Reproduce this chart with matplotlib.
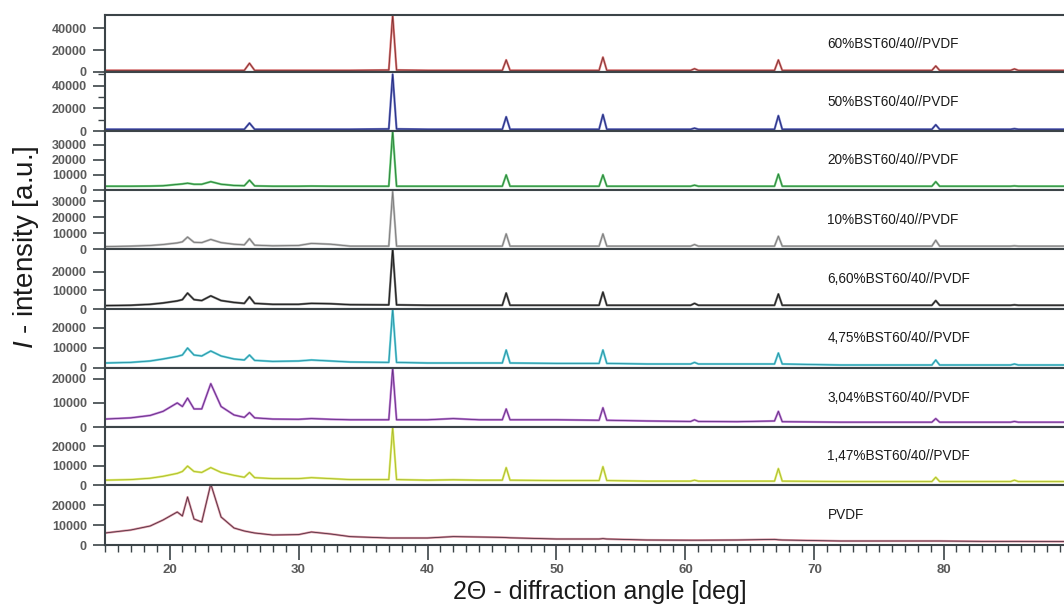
import matplotlib
matplotlib.use("Agg")
import matplotlib.pyplot as plt
from matplotlib.ticker import MultipleLocator


OUTPUT_PLOT = "out.png"

plt.rcParams["font.family"] = ["Liberation Sans", "DejaVu Sans"]
plt.rcParams["mathtext.fontset"] = "custom"
plt.rcParams["mathtext.it"] = "Liberation Sans:italic"
plt.rcParams["mathtext.rm"] = "Liberation Sans"

angles = [15, 17, 18.5, 19.5, 20.6, 21.0, 21.4, 21.9, 22.5, 23.2,
          24.0, 25.0, 25.8, 26.2, 26.6, 28, 30, 31, 32.5, 34,
          37.0, 37.3, 37.6, 40, 42, 44, 45.8, 46.1, 46.4, 50,
          53.3, 53.6, 53.9, 57, 60.4, 60.7, 61.0, 64, 66.9, 67.2,
          67.5, 72, 79.1, 79.4, 79.7, 83, 85.2, 85.5, 85.8, 90]

labels = ["60%BST60/40//PVDF", "50%BST60/40//PVDF", "20%BST60/40//PVDF",
          "10%BST60/40//PVDF", "6,60%BST60/40//PVDF", "4,75%BST60/40//PVDF",
          "3,04%BST60/40//PVDF", "1,47%BST60/40//PVDF", "PVDF"]

bst60 = [1500, 1500, 1500, 1500, 1500, 1500, 1500, 1500, 1500, 1500,
         1500, 1500, 1500, 8000, 1500, 1500, 1500, 1500, 1500, 1500,
         1800, 52000, 1800, 1500, 1500, 1500, 1500, 11000, 1500, 1500,
         1500, 13500, 1500, 1500, 1500, 3000, 1500, 1500, 1500, 11000,
         1500, 1500, 1500, 5500, 1500, 1500, 1500, 2800, 1500, 1500]

bst50 = [1500, 1500, 1500, 1500, 1500, 1500, 1500, 1500, 1500, 1500,
         1500, 1500, 1500, 7000, 1500, 1500, 1500, 1500, 1500, 1500,
         1800, 50000, 1800, 1500, 1500, 1500, 1500, 12500, 1500, 1500,
         1500, 14500, 1500, 1500, 1500, 2500, 1500, 1500, 1500, 13500,
         1500, 1500, 1500, 5500, 1500, 1500, 1500, 2000, 1500, 1500]

bst20 = [2500, 2500, 2600, 2800, 3700, 4000, 4500, 3800, 3800, 5500,
         3800, 3000, 2800, 6500, 2700, 2500, 2500, 2600, 2500, 2500,
         2500, 39000, 2500, 2500, 2500, 2500, 2500, 10000, 2500, 2500,
         2500, 10000, 2500, 2500, 2500, 3200, 2500, 2500, 2500, 10500,
         2500, 2500, 2500, 5500, 2500, 2500, 2500, 2700, 2500, 2500]

bst10 = [1500, 1800, 2200, 2800, 3800, 4500, 7500, 4200, 4000, 6000,
         4000, 3000, 2600, 6500, 2400, 2000, 2200, 3500, 3000, 1800,
         1800, 36000, 1800, 1800, 1800, 1800, 1800, 9500, 1800, 1800,
         1800, 9500, 1800, 1800, 1800, 2800, 1800, 1800, 1800, 8000,
         1800, 1800, 1800, 5500, 1800, 1800, 1800, 2000, 1800, 1800]

bst6_60 = [1800, 2000, 2500, 3200, 4300, 5000, 8500, 5000, 4500, 7000,
           4500, 3500, 3000, 6500, 3000, 2500, 2500, 3000, 2800, 2300,
           2200, 32000, 2200, 2000, 2000, 2000, 2000, 8500, 2000, 2000,
           2000, 9000, 2000, 2000, 2000, 3000, 2000, 2000, 2000, 8000,
           2000, 2000, 2000, 4500, 2000, 2000, 2000, 2200, 2000, 2000]

bst4_75 = [2500, 2800, 3500, 4500, 5800, 6500, 10000, 6500, 6000, 8500,
           6000, 4500, 4000, 6500, 3800, 3300, 3500, 4000, 3500, 3000,
           2800, 29500, 2800, 2500, 2500, 2500, 2500, 9000, 2500, 2300,
           2300, 9000, 2300, 2000, 2000, 2800, 2000, 2000, 2000, 7500,
           2000, 1500, 1500, 4000, 1500, 1500, 1500, 2000, 1500, 1500]

bst3_04 = [3300, 3800, 4800, 6500, 10000, 8500, 12000, 7500, 7500, 18000,
           8500, 5000, 4000, 6000, 3800, 3300, 3200, 3500, 3200, 3000,
           3000, 24500, 3000, 3000, 3500, 3000, 3000, 7500, 3000, 3000,
           2800, 8000, 2800, 2500, 2300, 3000, 2300, 2200, 2500, 6500,
           2200, 2000, 2000, 3500, 2000, 2000, 2000, 2300, 2000, 2000]

bst1_47 = [2500, 2800, 3500, 4500, 6000, 7000, 9800, 7000, 6500, 9000,
           6500, 5000, 4000, 6500, 3800, 3300, 3300, 3800, 3300, 2800,
           2800, 30000, 2800, 2500, 2700, 2500, 2500, 9000, 2500, 2300,
           2300, 9500, 2300, 2000, 2000, 2500, 2000, 2000, 2000, 8500,
           2000, 1800, 1800, 4000, 1800, 1800, 1800, 2500, 1800, 1800]

pvdf = [6000, 7500, 9500, 12500, 16500, 14500, 24000, 13000, 11500, 30500,
        14000, 8500, 7000, 6500, 6000, 5000, 5200, 6500, 5500, 4200,
        3500, 3500, 3500, 3500, 4200, 4000, 3800, 3700, 3600, 3000,
        3000, 3200, 3000, 2500, 2400, 2400, 2400, 2500, 2800, 2600,
        2500, 2000, 2000, 2000, 2000, 1800, 1800, 1800, 1800, 1700]

series = [bst60, bst50, bst20, bst10, bst6_60, bst4_75, bst3_04, bst1_47, pvdf]

line_colors = ["#de7a7a", "#6a72c0", "#6ccc7a", "#b8b8b8", "#6a6a6a",
               "#68d0dc", "#c07ad6", "#e0ec6a", "#dc94a2"]
dark_colors = ["#7a3030", "#20287a", "#287a38", "#787878", "#151515",
               "#2890a0", "#603080", "#a8b830", "#503040"]

y_tops = [52000, 52000, 39000, 37000, 32000, 29500, 24500, 30000, 30000]
y_ticks = [[0, 20000, 40000], [0, 20000, 40000],
           [0, 10000, 20000, 30000], [0, 10000, 20000, 30000],
           [0, 10000, 20000], [0, 10000, 20000], [0, 10000, 20000],
           [0, 10000, 20000], [0, 10000, 20000]]

# pixel rows of each panel's zero line in a 1064x607 canvas
ZERO_ROWS = [72, 131, 190, 249, 309, 368, 427, 485, 545]
TOP_ROW = 15
W, H = 1064, 607
LEFT_PX = 105
X_MIN, X_MAX = 15, 90
PX_PER_DEG = 12.9

SPINE = "#3c4448"
TICK_TEXT = "#5a5a5a"


def main():
    fig = plt.figure(figsize=(W / 100, H / 100), dpi=100)

    left = LEFT_PX / W
    width = (X_MAX - X_MIN) * PX_PER_DEG / W

    axes = []
    top = TOP_ROW
    for i, ys in enumerate(series):
        bottom = ZERO_ROWS[i]
        ax = fig.add_axes([left, 1 - bottom / H, width, (bottom - top) / H])
        top = bottom

        ax.plot(angles, ys, color=line_colors[i], lw=1.6, solid_joinstyle="round")
        ax.plot(angles, ys, color=dark_colors[i], lw=0.6)

        ax.set_xlim(X_MIN, X_MAX)
        ax.set_ylim(0, y_tops[i])
        ax.set_yticks(y_ticks[i])
        if i == 1:
            ax.yaxis.set_minor_locator(MultipleLocator(10000))
        ax.tick_params(axis="y", which="major", length=9, width=1.2, color=SPINE,
                       labelsize=9, labelcolor=TICK_TEXT, pad=4)
        ax.tick_params(axis="y", which="minor", length=5, width=1.0, color=SPINE)
        for lab in ax.get_yticklabels():
            lab.set_fontweight("bold")

        for side in ["left", "bottom", "top"]:
            ax.spines[side].set_color(SPINE)
            ax.spines[side].set_linewidth(1.5)
        ax.spines["right"].set_visible(False)

        ax.text(71, 0.5, labels[i], transform=ax.get_xaxis_transform(),
                fontsize=9.8, color="#1a1a1a", va="center", ha="left")

        if i < len(series) - 1:
            ax.tick_params(axis="x", which="both", bottom=False, labelbottom=False)
        axes.append(ax)

    ax = axes[-1]
    ax.xaxis.set_major_locator(MultipleLocator(10))
    ax.xaxis.set_minor_locator(MultipleLocator(1))
    ax.tick_params(axis="x", which="major", length=11, width=1.2, color=SPINE,
                   labelsize=9.5, labelcolor=TICK_TEXT, pad=3)
    ax.tick_params(axis="x", which="minor", length=5, width=1.0, color=SPINE)
    ax.set_xticks([20, 30, 40, 50, 60, 70, 80])
    for lab in ax.get_xticklabels():
        lab.set_fontweight("bold")

    fig.text(600 / W, 1 - 592 / H, "2\u0398 - diffraction angle [deg]",
             ha="center", va="center", fontsize=18, color="#1a1a1a")
    fig.text(26 / W, 1 - 247 / H, r"$\it{I}$ - intensity [a.u.]",
             ha="center", va="center", rotation=90, fontsize=20, color="#1a1a1a")

    fig.savefig(OUTPUT_PLOT, dpi=100)
    plt.close(fig)


if __name__ == "__main__":
    main()
